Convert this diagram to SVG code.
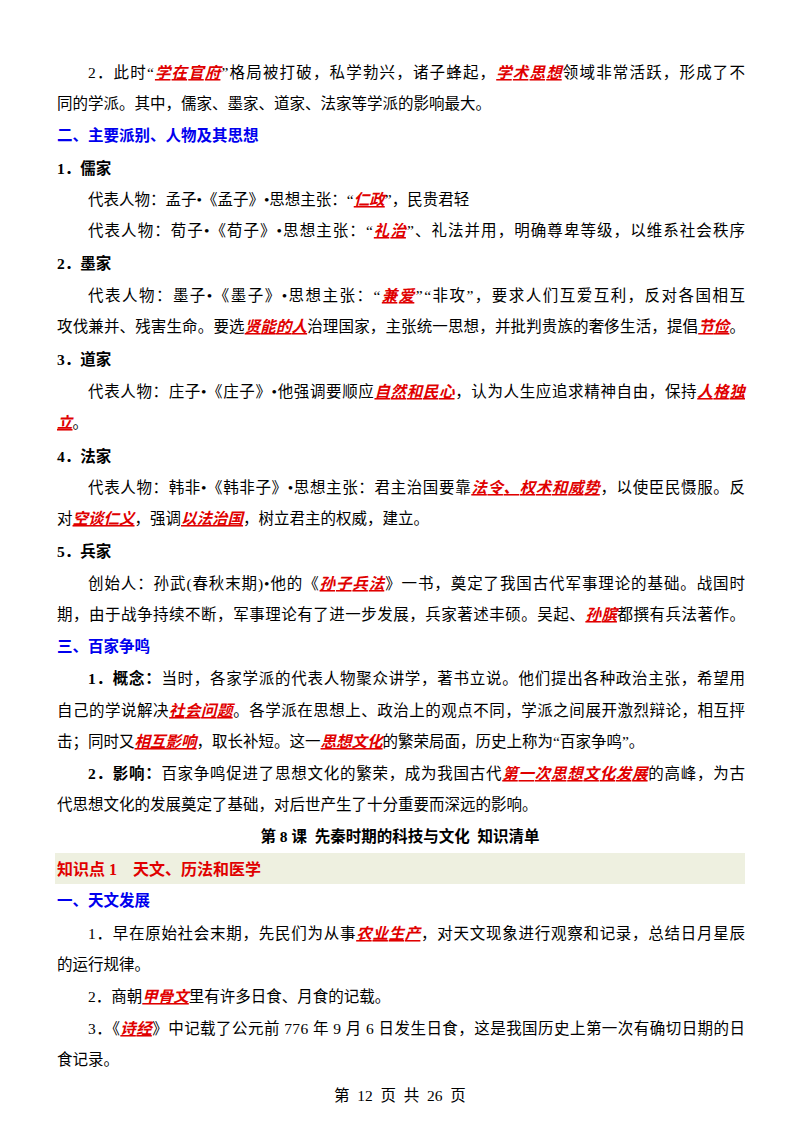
<svg xmlns="http://www.w3.org/2000/svg" width="800" height="1132" viewBox="0 0 800 1132">
<style>
text{font-family:"Liberation Serif","Noto Sans CJK SC",serif;font-size:15.5px;fill:#000}
.r{fill:#e00000;font-weight:bold;font-style:italic;text-decoration:underline}
.b{font-weight:bold}
.h{fill:#0000ee;font-weight:bold}
.t{fill:#e00000;font-weight:bold;font-size:16px}
</style>
<rect width="800" height="1132" fill="#fff"/>
<text x="88" y="78" textLength="657" lengthAdjust="spacing">2．此时“<tspan class="r">学在官府</tspan>”格局被打破，私学勃兴，诸子蜂起，<tspan class="r">学术思想</tspan>领域非常活跃，形成了不</text>
<text x="57" y="109">同的学派。其中，儒家、墨家、道家、法家等学派的影响最大。</text>
<text x="57" y="141" class="h">二、主要派别、人物及其思想</text>
<text x="57" y="174" class="b">1．儒家</text>
<text x="88" y="205">代表人物：孟子•《孟子》•思想主张：“<tspan class="r">仁政</tspan>”，民贵君轻</text>
<text x="88" y="236" textLength="657" lengthAdjust="spacing">代表人物：荀子•《荀子》•思想主张：“<tspan class="r">礼治</tspan>”、礼法并用，明确尊卑等级，以维系社会秩序</text>
<text x="57" y="269" class="b">2．墨家</text>
<text x="88" y="301" textLength="657" lengthAdjust="spacing">代表人物：墨子•《墨子》•思想主张：“<tspan class="r">兼爱</tspan>”“非攻”，要求人们互爱互利，反对各国相互</text>
<text x="57" y="332" textLength="688" lengthAdjust="spacing">攻伐兼并、残害生命。要选<tspan class="r">贤能的人</tspan>治理国家，主张统一思想，并批判贵族的奢侈生活，提倡<tspan class="r">节俭</tspan>。</text>
<text x="57" y="365" class="b">3．道家</text>
<text x="88" y="397" textLength="657" lengthAdjust="spacing">代表人物：庄子•《庄子》•他强调要顺应<tspan class="r">自然和民心</tspan>，认为人生应追求精神自由，保持<tspan class="r">人格独</tspan></text>
<text x="57" y="428"><tspan class="r">立</tspan>。</text>
<text x="57" y="462" class="b">4．法家</text>
<text x="88" y="493" textLength="657" lengthAdjust="spacing">代表人物：韩非•《韩非子》•思想主张：君主治国要靠<tspan class="r">法令、权术和威势</tspan>，以使臣民慑服。反</text>
<text x="57" y="524">对<tspan class="r">空谈仁义</tspan>，强调<tspan class="r">以法治国</tspan>，树立君主的权威，建立。</text>
<text x="57" y="557" class="b">5．兵家</text>
<text x="88" y="589" textLength="657" lengthAdjust="spacing">创始人：孙武(春秋末期)•他的《<tspan class="r">孙子兵法</tspan>》一书，奠定了我国古代军事理论的基础。战国时</text>
<text x="57" y="620" textLength="688" lengthAdjust="spacing">期，由于战争持续不断，军事理论有了进一步发展，兵家著述丰硕。吴起、<tspan class="r">孙膑</tspan>都撰有兵法著作。</text>
<text x="57" y="652" class="h">三、百家争鸣</text>
<text x="88" y="684" textLength="657" lengthAdjust="spacing"><tspan class="b">1．概念：</tspan>当时，各家学派的代表人物聚众讲学，著书立说。他们提出各种政治主张，希望用</text>
<text x="57" y="716" textLength="688" lengthAdjust="spacing">自己的学说解决<tspan class="r">社会问题</tspan>。各学派在思想上、政治上的观点不同，学派之间展开激烈辩论，相互抨</text>
<text x="57" y="747">击；同时又<tspan class="r">相互影响</tspan>，取长补短。这一<tspan class="r">思想文化</tspan>的繁荣局面，历史上称为“百家争鸣”。</text>
<text x="88" y="779" textLength="657" lengthAdjust="spacing"><tspan class="b">2．影响：</tspan>百家争鸣促进了思想文化的繁荣，成为我国古代<tspan class="r">第一次思想文化发展</tspan>的高峰，为古</text>
<text x="57" y="810">代思想文化的发展奠定了基础，对后世产生了十分重要而深远的影响。</text>
<text x="400" y="842" class="b" text-anchor="middle" xml:space="preserve" style="white-space:pre">第 8 课  先秦时期的科技与文化  知识清单</text>
<rect x="55" y="853" width="690" height="31" fill="#eef0e0"/>
<text x="57" y="875" class="t">知识点 1　天文、历法和医学</text>
<text x="57" y="906" class="h">一、天文发展</text>
<text x="88" y="939" textLength="657" lengthAdjust="spacing">1．早在原始社会末期，先民们为从事<tspan class="r">农业生产</tspan>，对天文现象进行观察和记录，总结日月星辰</text>
<text x="57" y="970">的运行规律。</text>
<text x="88" y="1002">2．商朝<tspan class="r">甲骨文</tspan>里有许多日食、月食的记载。</text>
<text x="88" y="1034" textLength="657" lengthAdjust="spacing">3．《<tspan class="r">诗经</tspan>》中记载了公元前 776 年 9 月 6 日发生日食，这是我国历史上第一次有确切日期的日</text>
<text x="57" y="1065">食记录。</text>
<text x="400" y="1101" text-anchor="middle" xml:space="preserve" style="white-space:pre">第  12  页  共  26  页</text>
</svg>
